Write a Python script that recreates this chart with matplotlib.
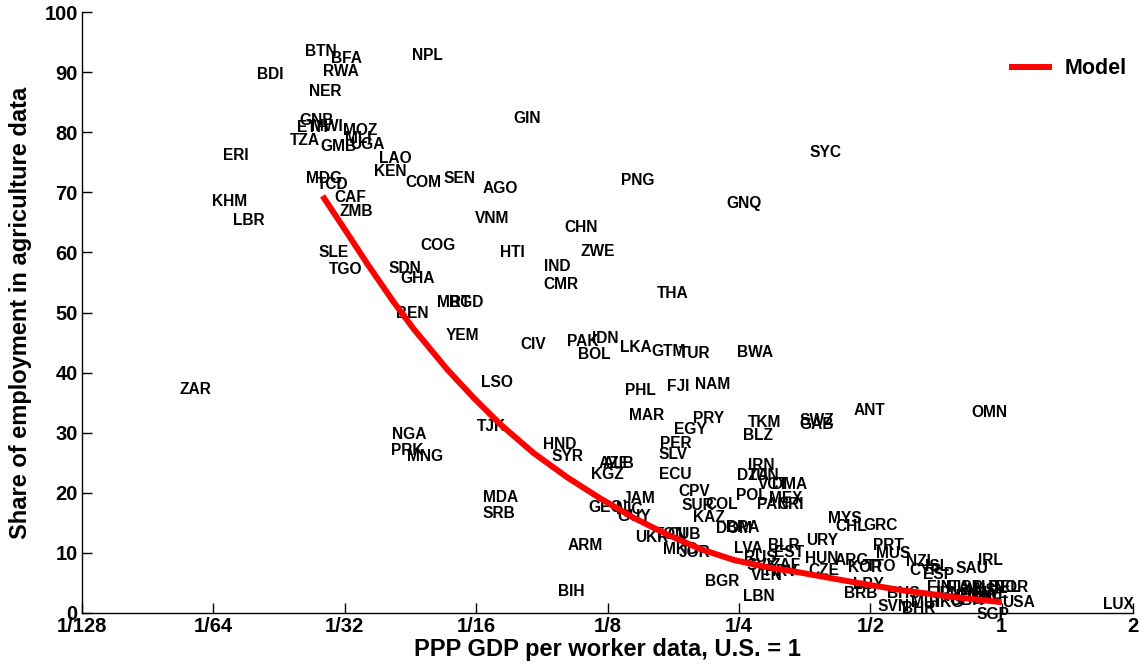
import numpy as np
import matplotlib
matplotlib.use("Agg")
import matplotlib.pyplot as plt
from matplotlib.ticker import FixedLocator, FixedFormatter, NullLocator

plt.rcParams['font.family'] = ['Liberation Sans', 'DejaVu Sans']
plt.rcParams['font.weight'] = 'bold'

# ---- data: country codes, log2(GDP per worker, US=1), agriculture share (%) ----
countries = ["BTN", "BFA", "NPL", "BDI", "RWA", "NER", "GNB", "ETH", "MWI", "MOZ",
             "MLI", "UGA", "TZA", "GMB", "ERI", "LAO", "KEN", "MDG", "TCD", "COM",
             "SEN", "CAF", "KHM", "ZMB", "LBR", "SLE", "TGO", "COG", "SDN", "GHA",
             "MRT", "BGD", "BEN", "YEM", "LSO", "ZAR", "TJK", "NGA", "PRK", "MNG",
             "GIN", "AGO", "PNG", "GNQ", "VNM", "CHN", "HTI", "ZWE", "IND", "CMR",
             "THA", "CIV", "PAK", "IDN", "BOL", "LKA", "GTM", "TUR", "BWA", "PHL",
             "FJI", "NAM", "SYC", "ANT", "OMN", "MAR", "PRY", "EGY", "TKM", "BLZ",
             "HND", "SYR", "PER", "SLV", "AZE", "ALB", "KGZ", "ECU", "CPV", "JAM",
             "GEO", "NIC", "GUY", "SUR", "COL", "KAZ", "DOM", "BRA", "POL", "MEX",
             "PAN", "CRI", "IRN", "DZA", "TUN", "VCT", "DMA", "LVA", "BLR", "EST",
             "RUS", "SVK", "ZAF", "VEN", "HRV", "URY", "HUN", "CZE", "SWZ", "GAB",
             "MYS", "CHL", "GRC", "ARG", "KOR", "TTO", "PRT", "MUS", "LBY", "BRB",
             "SVN", "BHR", "BHS", "NZL", "CYP", "ISL", "ESP", "SAU", "IRL", "FIN",
             "ITA", "ISR", "AUT", "AUS", "BEL", "NOR", "JPN", "FRA", "DNK", "SWE",
             "GBR", "MLT", "HKG", "CHE", "SGP", "USA", "LUX", "MDA", "SRB", "ARM",
             "BIH", "BGR", "LBN", "UKR", "TON", "CUB", "MKD", "JOR"]

gdp_log2 = [-5.179, -4.983, -4.368, -5.568, -5.032, -5.149, -5.217, -5.248, -5.133, -4.884,
            -4.897, -4.828, -5.304, -5.047, -5.828, -4.617, -4.653, -5.156, -5.093, -4.404,
            -4.129, -4.956, -5.873, -4.912, -5.728, -5.082, -4.991, -4.289, -4.541, -4.447,
            -4.167, -4.073, -4.483, -4.101, -3.844, -6.140, -3.883, -4.508, -4.523, -4.386,
            -3.610, -3.814, -2.767, -1.960, -3.877, -3.201, -3.722, -3.074, -3.379, -3.351,
            -2.507, -3.564, -3.191, -3.015, -3.102, -2.784, -2.538, -2.334, -1.874, -2.746,
            -2.464, -2.202, -1.342, -1.009, -0.097, -2.700, -2.230, -2.372, -1.802, -1.854,
            -3.366, -3.305, -2.477, -2.500, -2.952, -2.914, -3.000, -2.487, -2.336, -2.756,
            -3.013, -2.835, -2.794, -2.311, -2.133, -2.230, -2.039, -1.970, -1.905, -1.640,
            -1.739, -1.609, -1.831, -1.894, -1.813, -1.741, -1.617, -1.928, -1.661, -1.615,
            -1.838, -1.818, -1.642, -1.787, -1.678, -1.363, -1.373, -1.352, -1.409, -1.409,
            -1.195, -1.144, -0.925, -1.139, -1.037, -0.915, -0.864, -0.822, -1.017, -1.076,
            -0.822, -0.631, -0.745, -0.616, -0.580, -0.490, -0.478, -0.223, -0.084, -0.471,
            -0.336, -0.244, -0.114, -0.168, 0.023, 0.076, -0.420, -0.305, -0.191, -0.076,
            -0.267, -0.572, -0.420, -0.114, -0.069, 0.130, 0.892, -3.814, -3.829, -3.166,
            -3.275, -2.128, -1.846, -2.662, -2.517, -2.418, -2.446, -2.339]

agri_share = [93.5, 92.2, 92.8, 89.6, 90.1, 86.7, 81.9, 80.7, 81.0, 80.2,
              79.0, 77.9, 78.6, 77.6, 76.1, 75.7, 73.4, 72.3, 71.3, 71.7,
              72.3, 69.2, 68.4, 66.8, 65.3, 60.0, 57.2, 61.1, 57.4, 55.7,
              51.7, 51.7, 49.9, 46.2, 38.3, 37.2, 31.1, 29.7, 27.1, 26.0,
              82.2, 70.6, 71.9, 68.2, 65.6, 64.2, 60.0, 60.1, 57.6, 54.7,
              53.1, 44.7, 45.1, 45.6, 43.0, 44.1, 43.5, 43.2, 43.3, 37.1,
              37.7, 38.1, 76.7, 33.7, 33.3, 32.9, 32.4, 30.6, 31.7, 29.6,
              28.0, 26.0, 28.2, 26.3, 24.8, 24.8, 23.0, 23.0, 20.2, 19.0,
              17.5, 17.3, 16.0, 17.9, 18.1, 15.9, 14.0, 14.3, 19.5, 19.1,
              18.0, 18.0, 24.5, 22.8, 22.9, 21.3, 21.3, 10.7, 11.2, 10.1,
              9.3, 7.9, 7.9, 6.3, 6.9, 12.0, 9.0, 7.0, 32.0, 31.3,
              15.8, 14.4, 14.5, 8.8, 7.6, 7.7, 11.3, 9.9, 4.8, 3.2,
              1.1, 0.7, 3.2, 8.5, 7.0, 7.8, 6.4, 7.4, 8.7, 4.3,
              4.3, 4.2, 4.3, 3.8, 4.2, 4.2, 3.2, 2.8, 2.8, 3.2,
              2.0, 1.8, 1.7, 2.2, -0.2, 1.8, 1.4, 19.3, 16.6, 11.2,
              3.5, 5.2, 2.7, 12.6, 13.0, 13.0, 10.5, 10.1]

# model curve
model_gdp = [0.0278, 0.0314, 0.0352, 0.0403, 0.0448, 0.0537, 0.0617, 0.0710, 0.0847,
             0.1014, 0.1207, 0.1438, 0.1720, 0.2048, 0.2440, 0.2914, 0.3474, 0.4136,
             0.4951, 0.5893, 0.7679, 1.0000]
model_share = [69.4, 63.6, 58.1, 51.9, 47.4, 40.5, 35.8, 31.4, 26.6,
               22.5, 19.0, 15.8, 13.0, 10.6, 8.8, 7.6, 6.7, 5.7,
               4.7, 3.8, 2.7, 1.8]

xtick_vals = [1/128, 1/64, 1/32, 1/16, 1/8, 1/4, 1/2, 1, 2]
xtick_labels = ["1/128", "1/64", "1/32", "1/16", "1/8", "1/4", "1/2", "1", "2"]
ytick_vals = [0, 10, 20, 30, 40, 50, 60, 70, 80, 90, 100]

# ---- figure ----
fig = plt.figure(figsize=(11.4, 6.69), dpi=100)
ax = fig.add_axes([82/1140, 56/669, 1051/1140, 601/669])

gdp = 2.0 ** np.array(gdp_log2)
for c, x, y in zip(countries, gdp, agri_share):
    ax.text(x, y, c, ha='center', va='center', fontsize=11.2, fontweight='bold',
            color='black', clip_on=False, zorder=2)

ax.plot(model_gdp, model_share, color='#ff0000', lw=4.3, label='Model',
        zorder=3, solid_capstyle='butt', solid_joinstyle='round')

ax.set_xscale('log', base=2)
ax.set_xlim(1/128, 2)
ax.set_ylim(0, 100)
ax.xaxis.set_major_locator(FixedLocator(xtick_vals))
ax.xaxis.set_major_formatter(FixedFormatter(xtick_labels))
ax.xaxis.set_minor_locator(NullLocator())
ax.set_yticks(ytick_vals)

for s in ['top', 'right']:
    ax.spines[s].set_visible(False)
for s in ['left', 'bottom']:
    ax.spines[s].set_linewidth(1.0)

ax.tick_params(axis='both', direction='in', length=7, width=1,
               labelsize=14.5, pad=3)
for lab in ax.get_xticklabels() + ax.get_yticklabels():
    lab.set_fontweight('bold')

ax.set_xlabel("PPP GDP per worker data, U.S. = 1", fontsize=17, fontweight='bold',
              labelpad=1)
ax.set_ylabel("Share of employment in agriculture data", fontsize=17,
              fontweight='bold', labelpad=9)

leg = ax.legend(loc='upper right', bbox_to_anchor=(0.994, 0.923), frameon=False,
                fontsize=15.5, handlelength=2.0, handletextpad=0.6,
                borderaxespad=0, borderpad=0)
for t in leg.get_texts():
    t.set_fontweight('bold')

fig.savefig("out.png", dpi=100)
